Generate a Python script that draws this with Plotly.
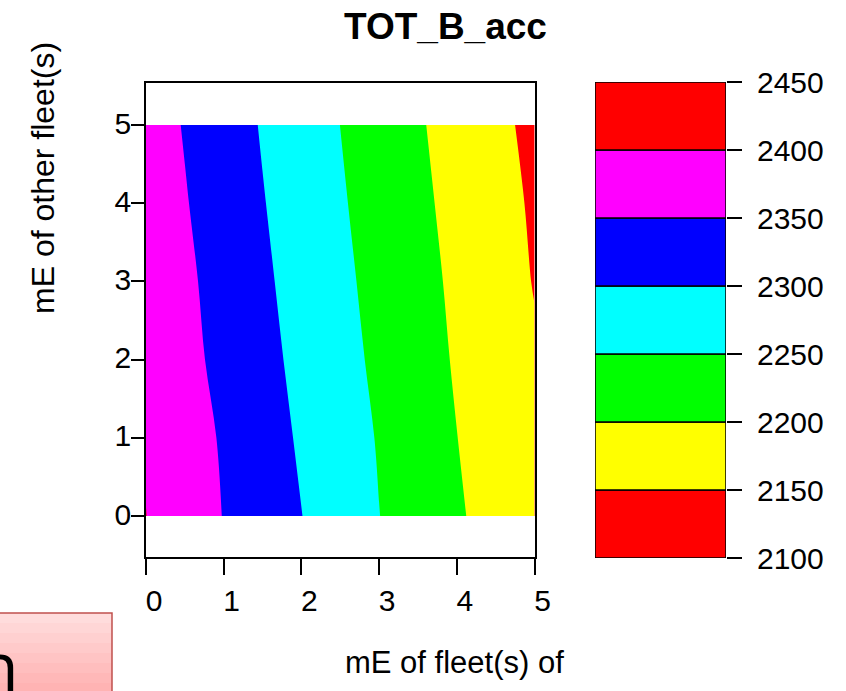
import plotly.graph_objects as go

# ---- data ----
x_vals = [0, 0.5, 1, 1.5, 2, 2.5, 3, 3.5, 4, 4.5, 5]
y_vals = [0, 1, 2, 3, 4, 5]
z_y0 = [2400.5, 2372.8, 2348.8, 2324.7, 2300.7, 2275.7, 2250.6, 2227.9, 2205.4, 2183.2, 2163.0]
z_y1 = [2396.2, 2370.7, 2345.2, 2319.7, 2294.6, 2270.8, 2247.1, 2223.8, 2200.5, 2180.0, 2159.5]
z_y2 = [2387.8, 2362.9, 2338.0, 2313.1, 2288.7, 2264.8, 2241.3, 2218.5, 2195.9, 2175.0, 2155.0]
z_y3 = [2384.2, 2358.7, 2333.1, 2307.6, 2283.3, 2259.6, 2236.6, 2214.2, 2192.1, 2170.1, 2148.1]
z_y4 = [2378.0, 2352.7, 2327.4, 2302.1, 2278.2, 2254.5, 2231.8, 2209.4, 2187.5, 2166.0, 2144.4]
z_y5 = [2372.6, 2347.3, 2322.0, 2296.9, 2273.4, 2249.8, 2227.3, 2204.7, 2182.7, 2160.9, 2139.1]
z_rows = [z_y0, z_y1, z_y2, z_y3, z_y4, z_y5]

levels = [2100, 2150, 2200, 2250, 2300, 2350, 2400, 2450]
band_colors = ["#FF0000", "#FFFF00", "#00FF00", "#00FFFF", "#0000FF", "#FF00FF", "#FF0000"]
axis_ticks = [0, 1, 2, 3, 4, 5]

title_text = "TOT_B_acc"
xlab_text = "mE of fleet(s) of"
ylab_text = "mE of other fleet(s)"

# ---- figure ----
W, H = 846, 691
FONT = "Liberation Sans, Arial, Helvetica, sans-serif"
TICK_SIZE = 30

def px_x(p):
    return p / W

def px_y(p):
    return 1 - p / H

# colorscale: band k (below start, each band, above end) evaluated at k/8
scale_cols = [band_colors[0]] + band_colors + [band_colors[-1]]
n = len(scale_cols) - 1
colorscale = [[k / n, c] for k, c in enumerate(scale_cols)]

fig = go.Figure()

fig.add_trace(go.Contour(
    x=x_vals, y=y_vals, z=z_rows,
    autocontour=False,
    contours=dict(start=levels[0], end=levels[-1], size=levels[1] - levels[0],
                  coloring="fill", showlines=False),
    colorscale=colorscale,
    line=dict(width=0),
    showscale=False,
    hoverinfo="skip",
    xaxis="x", yaxis="y",
))

band_heights = [levels[i + 1] - levels[i] for i in range(len(levels) - 1)]
fig.add_trace(go.Bar(
    x=[0] * len(band_heights), y=band_heights, base=levels[:-1],
    width=1,
    marker=dict(color=band_colors, line=dict(color="black", width=1.5)),
    cliponaxis=False,
    hoverinfo="skip",
    xaxis="x2", yaxis="y2",
))

axis_common = dict(
    showgrid=False, zeroline=False,
    ticks="outside", tickwidth=1.5, tickcolor="black",
    showline=True, mirror=True, linecolor="black", linewidth=1.6,
    tickfont=dict(size=TICK_SIZE, color="black", family=FONT),
)

fig.update_layout(
    # natural size leaves room for the default page margins; resized to W x H on load
    width=W - 16, height=H - 33,
    margin=dict(l=0, r=0, t=0, b=0),
    paper_bgcolor="white", plot_bgcolor="white",
    font=dict(family=FONT, color="black"),
    showlegend=False,
    barmode="overlay",
    xaxis=dict(domain=[px_x(146), px_x(534.5)], range=[0, 5], tickvals=axis_ticks,
               ticklen=16, ticklabelshift=8, anchor="y", **axis_common),
    yaxis=dict(domain=[px_y(557), px_y(83)], range=[-0.524, 5.537], tickvals=axis_ticks,
               ticklen=13, ticklabelshift=-2, anchor="x", **axis_common),
    xaxis2=dict(domain=[px_x(595), px_x(726)], range=[-0.5, 0.5], visible=False,
                anchor="y2", fixedrange=True),
    yaxis2=dict(domain=[px_y(558), px_y(82)], range=[levels[0], levels[-1]],
                tickvals=levels, anchor="x2", side="right",
                ticks="outside", ticklen=15, tickwidth=1.5, tickcolor="black",
                showgrid=False, zeroline=False, showline=False,
                tickfont=dict(size=TICK_SIZE, color="black", family=FONT)),
)

# label spacing tweaks (skipped quietly if this plotly version rejects them)
try:
    fig.update_yaxes(ticklabelstandoff=-6, selector=dict(anchor="x"))
except Exception:
    pass
try:
    fig.layout.yaxis2.ticklabelstandoff = 9
except Exception:
    pass

# pink box (cropped button) at bottom-left
pinks = ["#ffdcdc", "#ffd6d6", "#ffd0d0", "#ffcaca", "#ffc4c4", "#ffbebe", "#ffb8b8", "#ffb3b3"]
top, bot = 613, 693
step = (bot - top) / len(pinks)
for i, c in enumerate(pinks):
    fig.add_shape(type="rect", xref="paper", yref="paper",
                  x0=px_x(-2), x1=px_x(112),
                  y0=px_y(top + (i + 1) * step + 0.5), y1=px_y(top + i * step),
                  fillcolor=c, line=dict(width=0), layer="below")
fig.add_shape(type="rect", xref="paper", yref="paper",
              x0=px_x(-2), x1=px_x(112), y0=px_y(bot), y1=px_y(top),
              fillcolor="rgba(0,0,0,0)", line=dict(color="#c0504d", width=1.5))

fig.add_annotation(text="n", xref="paper", yref="paper", x=px_x(21), y=px_y(664),
                   xanchor="right", yanchor="middle", showarrow=False,
                   font=dict(size=68, family="Open Sans, Lato, sans-serif", color="black"))

fig.add_annotation(text="<b>%s</b>" % title_text, xref="paper", yref="paper",
                   x=px_x(445.5), y=px_y(26), xanchor="center", yanchor="middle",
                   showarrow=False, font=dict(size=37, family=FONT, color="black"))
fig.add_annotation(text=xlab_text, xref="paper", yref="paper",
                   x=px_x(454), y=px_y(662), xanchor="center", yanchor="middle",
                   showarrow=False, font=dict(size=31, family=FONT, color="black"))
fig.add_annotation(text=ylab_text, xref="paper", yref="paper",
                   x=px_x(43), y=px_y(178), xanchor="center", yanchor="middle",
                   textangle=-90, showarrow=False,
                   font=dict(size=32, family=FONT, color="black"))

# put the figure alone at the page's top-left corner and give it the window size
fit_js = """
var gd = document.querySelector('.js-plotly-plot') || document.querySelector('.plotly-graph-div');
var de = document.documentElement, bd = document.body;
de.style.margin = '0'; de.style.padding = '0'; de.style.overflow = 'hidden';
bd.style.margin = '0'; bd.style.padding = '0'; bd.style.overflow = 'hidden';
if (gd) {
  try {
    var kids = Array.prototype.slice.call(bd.childNodes);
    bd.insertBefore(gd, bd.firstChild);
    kids.forEach(function(k) { if (k !== gd && k.parentNode === bd && k.nodeType !== 1) { bd.removeChild(k); } });
    kids.forEach(function(k) { if (k !== gd && k.parentNode === bd && k.nodeType === 1) { k.style.display = 'none'; } });
  } catch (e) {}
  gd.style.position = 'absolute'; gd.style.left = '0px'; gd.style.top = '0px';
  gd.style.width = '%dpx'; gd.style.height = '%dpx';
  return Plotly.relayout(gd, {width: %d, height: %d});
}
""" % (W, H, W, H)

fig.write_html("out.html", post_script=fit_js, config={"displayModeBar": False})
